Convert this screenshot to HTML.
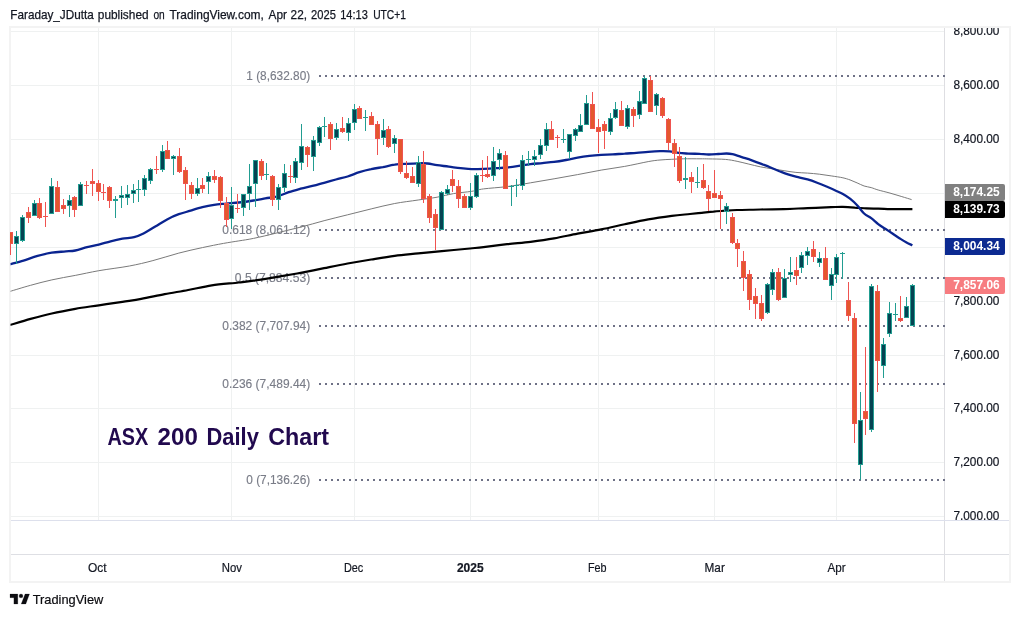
<!DOCTYPE html>
<html lang="en"><head><meta charset="utf-8"><title>ASX 200 Daily Chart</title>
<style>html,body{margin:0;padding:0;background:#fff}body{width:1020px;height:617px;overflow:hidden;position:relative}svg{position:absolute;left:0;top:0;display:block}text{font-family:"Liberation Sans",Arial,sans-serif}</style>
</head><body>
<svg width="1020" height="617" viewBox="0 0 1020 617">
<rect width="1020" height="617" fill="#fff"/>
<g font-size="12.4" fill="#131722" stroke="#131722" stroke-width="0.25">
<text x="10.3" y="19.2" textLength="83.4" lengthAdjust="spacingAndGlyphs">Faraday_JDutta</text>
<text x="97.8" y="19.2" textLength="50.8" lengthAdjust="spacingAndGlyphs">published</text>
<text x="153.4" y="19.2" textLength="11.3" lengthAdjust="spacingAndGlyphs">on</text>
<text x="169.5" y="19.2" textLength="94.3" lengthAdjust="spacingAndGlyphs">TradingView.com,</text>
<text x="268.6" y="19.2" textLength="18.4" lengthAdjust="spacingAndGlyphs">Apr</text>
<text x="290.6" y="19.2" textLength="16.4" lengthAdjust="spacingAndGlyphs">22,</text>
<text x="311.1" y="19.2" textLength="24.8" lengthAdjust="spacingAndGlyphs">2025</text>
<text x="340.2" y="19.2" textLength="27.6" lengthAdjust="spacingAndGlyphs">14:13</text>
<text x="373.2" y="19.2" textLength="32.8" lengthAdjust="spacingAndGlyphs">UTC+1</text>
</g>
<g shape-rendering="crispEdges">
<g fill="#eff1f1">
<rect x="11" y="516" width="933" height="1"/>
<rect x="11" y="462" width="933" height="1"/>
<rect x="11" y="408" width="933" height="1"/>
<rect x="11" y="355" width="933" height="1"/>
<rect x="11" y="301" width="933" height="1"/>
<rect x="11" y="247" width="933" height="1"/>
<rect x="11" y="193" width="933" height="1"/>
<rect x="11" y="139" width="933" height="1"/>
<rect x="11" y="85" width="933" height="1"/>
<rect x="11" y="31" width="933" height="1"/>
<rect x="98" y="27" width="1" height="493"/>
<rect x="231" y="27" width="1" height="493"/>
<rect x="354" y="27" width="1" height="493"/>
<rect x="470" y="27" width="1" height="493"/>
<rect x="598" y="27" width="1" height="493"/>
<rect x="714" y="27" width="1" height="493"/>
<rect x="836" y="27" width="1" height="493"/>
</g>
<g fill="#e6e8ee">
</g>
<g fill="#f3f3f3">
<rect x="9" y="26" width="1002" height="2"/>
<rect x="9" y="26" width="2" height="557"/>
<rect x="1009" y="26" width="2" height="557"/>
<rect x="9" y="581" width="1002" height="2"/>
</g>
<rect x="944" y="28" width="1" height="553" fill="#dedee2"/>
<rect x="11" y="520" width="998" height="1" fill="#dde0ec"/>
<rect x="11" y="554" width="998" height="1" fill="#dedfe4"/>
</g>
<g font-size="12.2" fill="#7a7d88" stroke="#7a7d88" stroke-width="0.15">
<text x="246.3" y="79.7" textLength="63.9" lengthAdjust="spacingAndGlyphs">1 (8,632.80)</text>
<text x="222.3" y="233.7" textLength="87.9" lengthAdjust="spacingAndGlyphs">0.618 (8,061.12)</text>
<text x="234.8" y="281.7" textLength="75.4" lengthAdjust="spacingAndGlyphs">0.5 (7,884.53)</text>
<text x="222.3" y="329.7" textLength="87.9" lengthAdjust="spacingAndGlyphs">0.382 (7,707.94)</text>
<text x="222.3" y="387.7" textLength="87.9" lengthAdjust="spacingAndGlyphs">0.236 (7,489.44)</text>
<text x="246.3" y="483.7" textLength="63.9" lengthAdjust="spacingAndGlyphs">0 (7,136.26)</text>
</g>
<g stroke="#6e7186" stroke-width="2" stroke-dasharray="2 4" shape-rendering="crispEdges">
<line x1="319.3" y1="76" x2="945" y2="76"/>
<line x1="319.3" y1="230" x2="945" y2="230"/>
<line x1="319.3" y1="278" x2="945" y2="278"/>
<line x1="319.3" y1="326" x2="945" y2="326"/>
<line x1="319.3" y1="384" x2="945" y2="384"/>
<line x1="319.3" y1="480" x2="945" y2="480"/>
</g>
<clipPath id="pane2"><rect x="10.5" y="28" width="934" height="492"/></clipPath>
<g fill="none" stroke-linejoin="round" stroke-linecap="butt" clip-path="url(#pane2)">
<path d="M10.0,291.4C13.4,290.4 23.6,287.2 30.6,285.3C37.6,283.4 44.3,281.5 51.8,279.9C59.2,278.2 67.5,276.9 75.3,275.4C83.1,273.9 89.8,272.3 98.8,270.7C107.8,269.1 120.4,267.7 129.4,266.0C138.4,264.3 144.7,262.8 152.9,260.6C161.1,258.5 170.6,255.3 178.8,253.1C187.1,250.9 195.0,249.2 202.4,247.6C209.8,246.0 217.4,244.5 223.5,243.4C229.6,242.3 233.8,241.7 238.8,240.9C243.8,240.1 247.1,239.7 253.5,238.4C259.9,237.1 269.2,234.8 277.1,232.9C285.0,231.0 292.8,229.1 300.6,227.1C308.4,225.1 316.3,222.8 324.1,220.7C331.9,218.6 339.8,216.8 347.6,214.8C355.5,212.8 363.4,210.8 371.2,208.9C379.0,207.0 386.9,205.0 394.7,203.5C402.5,202.0 411.1,201.1 418.2,200.0C425.3,198.9 431.2,198.3 437.1,197.2C443.0,196.1 447.7,194.6 453.5,193.6C459.3,192.6 466.8,192.1 471.8,191.3C476.8,190.5 477.6,189.7 483.5,188.9C489.4,188.1 499.2,187.6 507.1,186.6C515.0,185.6 522.8,184.1 530.6,182.8C538.4,181.5 546.3,180.2 554.1,178.8C561.9,177.4 569.8,176.1 577.6,174.6C585.5,173.1 593.4,171.5 601.2,170.1C609.1,168.7 616.9,167.8 624.7,166.4C632.5,165.0 642.3,162.7 648.2,161.6C654.1,160.5 656.1,160.4 660.0,160.0C663.9,159.6 667.9,159.5 671.8,159.3C675.7,159.1 678.8,158.9 683.5,158.8C688.2,158.7 695.8,158.8 700.0,158.8C704.2,158.8 704.6,158.8 708.8,158.9C713.0,159.0 720.6,159.0 725.3,159.4C730.0,159.8 733.2,160.5 737.1,161.3C741.0,162.1 744.9,163.2 748.8,164.1C752.7,165.0 756.7,166.1 760.6,166.9C764.5,167.7 768.5,168.2 772.4,168.8C776.3,169.4 780.2,170.1 784.1,170.7C788.0,171.3 792.0,172.0 795.9,172.4C799.8,172.8 803.7,172.8 807.6,173.1C811.5,173.4 815.5,173.7 819.4,174.2C823.3,174.7 827.3,175.3 831.2,175.9C835.1,176.5 839.8,177.1 842.9,177.8C846.0,178.5 847.6,179.1 850.0,179.9C852.4,180.8 854.8,181.9 857.1,182.9C859.5,183.9 861.8,185.2 864.1,186.0C866.5,186.8 868.9,186.9 871.2,187.6C873.6,188.3 875.1,189.1 878.2,190.0C881.3,190.9 886.1,192.0 890.0,193.1C893.9,194.2 898.2,195.5 901.8,196.6C905.4,197.7 910.0,199.1 911.6,199.6" stroke="#7a7a7a" stroke-width="1"/>
<path d="M10.0,325.0C13.4,324.0 23.6,320.8 30.6,318.9C37.6,317.0 44.3,315.2 51.8,313.5C59.2,311.8 67.5,310.2 75.3,308.8C83.1,307.4 90.9,306.5 98.8,305.3C106.7,304.1 115.3,302.9 122.4,301.8C129.5,300.7 134.1,300.2 141.2,298.9C148.2,297.6 156.9,295.7 164.7,294.2C172.5,292.7 180.3,291.5 188.2,290.0C196.0,288.5 203.4,286.6 211.8,285.3C220.2,284.1 231.9,283.3 238.8,282.5C245.8,281.7 247.1,281.6 253.5,280.7C259.9,279.8 269.2,278.2 277.1,276.9C285.0,275.6 292.8,274.3 300.6,272.9C308.4,271.4 316.3,269.8 324.1,268.2C331.9,266.6 339.8,264.9 347.6,263.5C355.5,262.1 363.4,260.8 371.2,259.5C379.0,258.2 386.9,256.8 394.7,255.8C402.5,254.8 410.3,254.2 418.2,253.4C426.1,252.6 433.2,251.9 441.8,251.1C450.4,250.3 463.1,249.2 470.0,248.5C476.9,247.8 477.3,247.8 483.5,247.1C489.7,246.4 499.2,245.1 507.1,244.2C515.0,243.3 522.8,242.9 530.6,241.9C538.4,240.9 546.3,239.8 554.1,238.4C561.9,237.0 569.8,235.1 577.6,233.6C585.5,232.1 593.4,231.0 601.2,229.4C609.1,227.8 616.9,225.9 624.7,224.2C632.5,222.5 640.4,220.7 648.2,219.3C656.1,217.9 664.8,216.7 671.8,215.8C678.8,214.9 685.0,214.5 690.0,214.0C695.0,213.5 697.9,213.2 701.8,212.8C705.7,212.4 709.6,211.9 713.5,211.6C717.4,211.2 721.4,211.0 725.3,210.7C729.2,210.4 731.2,210.2 737.1,210.0C743.0,209.8 752.8,209.7 760.6,209.5C768.4,209.3 776.3,209.3 784.1,209.1C791.9,208.9 799.8,208.4 807.6,208.1C815.5,207.8 825.3,207.4 831.2,207.2C837.1,207.0 839.0,206.8 842.9,206.9C846.8,207.0 850.8,207.3 854.7,207.6C858.6,207.8 862.6,208.2 866.5,208.4C870.4,208.6 874.3,208.5 878.2,208.6C882.1,208.7 886.1,209.0 890.0,209.1C893.9,209.2 898.1,209.1 901.8,209.1C905.5,209.1 910.6,209.1 912.4,209.1" stroke="#000" stroke-width="2.2"/>
<path d="M10.0,264.4C10.1,264.3 8.3,264.7 10.6,264.1C12.8,263.5 19.0,262.0 23.5,260.6C28.0,259.2 32.9,257.2 37.6,255.9C42.3,254.6 47.1,253.3 51.8,252.6C56.5,251.8 62.0,251.8 65.9,251.4C69.8,251.1 71.8,251.2 75.3,250.5C78.8,249.8 83.2,248.2 87.1,247.2C91.0,246.2 94.9,245.6 98.8,244.6C102.7,243.6 106.7,242.3 110.6,241.3C114.5,240.3 118.5,239.4 122.4,238.7C126.3,238.0 130.6,238.0 134.1,237.1C137.6,236.2 140.0,235.3 143.5,233.5C147.0,231.7 151.4,228.8 155.3,226.5C159.2,224.2 163.2,221.5 167.1,219.4C171.0,217.3 174.9,215.6 178.8,214.2C182.7,212.8 186.7,211.9 190.6,210.7C194.5,209.5 198.5,208.2 202.4,207.2C206.3,206.2 210.2,205.4 214.1,204.8C218.0,204.2 221.8,204.0 225.9,203.6C230.0,203.2 234.2,203.0 238.8,202.5C243.4,202.0 249.1,201.2 253.5,200.5C257.9,199.8 261.4,199.1 265.3,198.4C269.2,197.7 273.2,197.5 277.1,196.5C281.0,195.5 284.9,193.5 288.8,192.2C292.7,190.9 296.7,189.8 300.6,188.7C304.5,187.6 308.5,186.9 312.4,185.9C316.3,184.9 320.2,183.9 324.1,182.8C328.0,181.7 332.0,180.6 335.9,179.5C339.8,178.4 343.7,177.7 347.6,176.5C351.5,175.3 355.5,173.4 359.4,172.2C363.3,171.0 367.3,170.0 371.2,169.2C375.1,168.3 379.0,167.8 382.9,167.1C386.8,166.3 390.8,165.2 394.7,164.7C398.6,164.1 402.6,164.0 406.5,163.8C410.4,163.6 414.7,163.4 418.2,163.3C421.7,163.2 424.5,163.2 427.6,163.5C430.8,163.8 433.6,164.7 437.1,165.2C440.6,165.7 444.9,166.1 448.8,166.6C452.7,167.1 456.8,167.8 460.6,168.2C464.4,168.6 468.0,169.1 471.8,169.2C475.6,169.3 479.6,169.1 483.5,168.9C487.4,168.7 491.4,168.4 495.3,168.2C499.2,168.0 503.2,167.9 507.1,167.5C511.0,167.1 514.9,166.5 518.8,165.9C522.7,165.3 526.7,164.7 530.6,164.2C534.5,163.7 538.5,163.5 542.4,163.1C546.3,162.7 550.2,162.4 554.1,161.9C558.0,161.4 562.0,160.7 565.9,160.0C569.8,159.3 573.7,158.3 577.6,157.6C581.5,156.9 585.5,156.3 589.4,155.8C593.3,155.3 597.3,155.0 601.2,154.8C605.1,154.6 609.0,154.6 612.9,154.4C616.8,154.2 620.8,153.8 624.7,153.6C628.6,153.3 632.6,153.2 636.5,152.9C640.4,152.6 644.3,152.1 648.2,151.8C652.1,151.5 656.5,151.2 660.0,151.1C663.5,151.0 666.3,151.0 669.4,151.3C672.5,151.6 675.7,152.5 678.8,152.9C681.9,153.3 684.8,153.4 688.2,153.6C691.6,153.8 696.0,153.7 699.4,153.8C702.8,154.0 705.7,154.5 708.8,154.5C711.9,154.5 715.2,154.2 718.2,154.0C721.2,153.8 724.1,153.5 726.5,153.5C728.9,153.5 729.9,153.6 732.4,154.2C734.9,154.8 738.7,156.1 741.8,157.1C744.9,158.1 748.1,159.0 751.2,160.1C754.3,161.2 757.5,162.4 760.6,163.6C763.7,164.8 766.9,165.9 770.0,167.2C773.1,168.5 776.3,169.9 779.4,171.2C782.5,172.4 785.7,173.7 788.8,174.7C791.9,175.7 795.1,176.3 798.2,177.1C801.3,177.9 804.5,178.5 807.6,179.4C810.8,180.3 814.0,181.5 817.1,182.7C820.2,183.9 823.4,185.2 826.5,186.5C829.6,187.8 833.2,189.4 835.9,190.7C838.6,191.9 840.5,192.7 842.9,194.0C845.2,195.3 847.6,196.8 850.0,198.7C852.4,200.6 854.8,202.8 857.1,205.3C859.5,207.8 861.8,211.3 864.1,213.5C866.5,215.7 868.9,216.4 871.2,218.2C873.6,220.0 875.9,222.3 878.2,224.1C880.6,225.9 882.9,227.2 885.3,228.8C887.7,230.4 890.0,231.9 892.4,233.5C894.8,235.1 897.0,236.7 899.4,238.2C901.8,239.7 904.3,241.3 906.5,242.5C908.7,243.7 911.4,244.8 912.4,245.3" stroke="#0a2490" stroke-width="2.3"/>
</g>
<clipPath id="pane"><rect x="10" y="28" width="934" height="492"/></clipPath>
<g shape-rendering="crispEdges" clip-path="url(#pane)">
<rect x="10" y="232" width="1" height="23" fill="#ef5350"/>
<rect x="8" y="232" width="5" height="12" fill="#ef5350"/>
<rect x="9" y="233" width="3" height="10" fill="#e4572e"/>
<rect x="16" y="231" width="1" height="33" fill="#229d91"/>
<rect x="14" y="236" width="5" height="8" fill="#229d91"/>
<rect x="15" y="237" width="3" height="6" fill="#054352"/>
<rect x="22" y="215" width="1" height="27" fill="#229d91"/>
<rect x="20" y="217" width="5" height="24" fill="#229d91"/>
<rect x="21" y="218" width="3" height="22" fill="#054352"/>
<rect x="28" y="207" width="1" height="16" fill="#ef5350"/>
<rect x="26" y="212" width="5" height="6" fill="#ef5350"/>
<rect x="27" y="213" width="3" height="4" fill="#e4572e"/>
<rect x="34" y="200" width="1" height="16" fill="#229d91"/>
<rect x="32" y="203" width="5" height="13" fill="#229d91"/>
<rect x="33" y="204" width="3" height="11" fill="#054352"/>
<rect x="39" y="198" width="1" height="21" fill="#ef5350"/>
<rect x="37" y="203" width="5" height="15" fill="#ef5350"/>
<rect x="38" y="204" width="3" height="13" fill="#e4572e"/>
<rect x="45" y="202" width="1" height="25" fill="#ef5350"/>
<rect x="43" y="216" width="5" height="1" fill="#ef5350"/>
<rect x="51" y="178" width="1" height="36" fill="#229d91"/>
<rect x="49" y="186" width="5" height="28" fill="#229d91"/>
<rect x="50" y="187" width="3" height="26" fill="#054352"/>
<rect x="57" y="181" width="1" height="31" fill="#ef5350"/>
<rect x="55" y="187" width="5" height="25" fill="#ef5350"/>
<rect x="56" y="188" width="3" height="23" fill="#e4572e"/>
<rect x="63" y="199" width="1" height="15" fill="#ef5350"/>
<rect x="61" y="205" width="5" height="4" fill="#ef5350"/>
<rect x="62" y="206" width="3" height="2" fill="#e4572e"/>
<rect x="69" y="195" width="1" height="22" fill="#229d91"/>
<rect x="67" y="200" width="5" height="6" fill="#229d91"/>
<rect x="68" y="201" width="3" height="4" fill="#054352"/>
<rect x="74" y="196" width="1" height="21" fill="#ef5350"/>
<rect x="72" y="197" width="5" height="13" fill="#ef5350"/>
<rect x="73" y="198" width="3" height="11" fill="#e4572e"/>
<rect x="80" y="182" width="1" height="24" fill="#229d91"/>
<rect x="78" y="184" width="5" height="22" fill="#229d91"/>
<rect x="79" y="185" width="3" height="20" fill="#054352"/>
<rect x="86" y="181" width="1" height="13" fill="#ef5350"/>
<rect x="84" y="185" width="5" height="1" fill="#ef5350"/>
<rect x="92" y="169" width="1" height="27" fill="#ef5350"/>
<rect x="90" y="181" width="5" height="3" fill="#ef5350"/>
<rect x="91" y="182" width="3" height="1" fill="#e4572e"/>
<rect x="98" y="180" width="1" height="21" fill="#ef5350"/>
<rect x="96" y="183" width="5" height="9" fill="#ef5350"/>
<rect x="97" y="184" width="3" height="7" fill="#e4572e"/>
<rect x="103" y="184" width="1" height="16" fill="#ef5350"/>
<rect x="101" y="192" width="5" height="1" fill="#ef5350"/>
<rect x="109" y="186" width="1" height="22" fill="#ef5350"/>
<rect x="107" y="187" width="5" height="14" fill="#ef5350"/>
<rect x="108" y="188" width="3" height="12" fill="#e4572e"/>
<rect x="115" y="196" width="1" height="22" fill="#229d91"/>
<rect x="113" y="199" width="5" height="2" fill="#229d91"/>
<rect x="121" y="186" width="1" height="22" fill="#229d91"/>
<rect x="119" y="195" width="5" height="3" fill="#229d91"/>
<rect x="120" y="196" width="3" height="1" fill="#054352"/>
<rect x="127" y="185" width="1" height="20" fill="#229d91"/>
<rect x="125" y="194" width="5" height="4" fill="#229d91"/>
<rect x="126" y="195" width="3" height="2" fill="#054352"/>
<rect x="133" y="184" width="1" height="19" fill="#229d91"/>
<rect x="131" y="190" width="5" height="4" fill="#229d91"/>
<rect x="132" y="191" width="3" height="2" fill="#054352"/>
<rect x="138" y="180" width="1" height="22" fill="#229d91"/>
<rect x="136" y="189" width="5" height="1" fill="#229d91"/>
<rect x="144" y="175" width="1" height="21" fill="#229d91"/>
<rect x="142" y="178" width="5" height="12" fill="#229d91"/>
<rect x="143" y="179" width="3" height="10" fill="#054352"/>
<rect x="150" y="168" width="1" height="16" fill="#229d91"/>
<rect x="148" y="169" width="5" height="12" fill="#229d91"/>
<rect x="149" y="170" width="3" height="10" fill="#054352"/>
<rect x="156" y="156" width="1" height="18" fill="#ef5350"/>
<rect x="154" y="169" width="5" height="1" fill="#ef5350"/>
<rect x="162" y="145" width="1" height="27" fill="#229d91"/>
<rect x="160" y="151" width="5" height="19" fill="#229d91"/>
<rect x="161" y="152" width="3" height="17" fill="#054352"/>
<rect x="167" y="141" width="1" height="18" fill="#ef5350"/>
<rect x="165" y="150" width="5" height="9" fill="#ef5350"/>
<rect x="166" y="151" width="3" height="7" fill="#e4572e"/>
<rect x="173" y="155" width="1" height="20" fill="#229d91"/>
<rect x="171" y="156" width="5" height="3" fill="#229d91"/>
<rect x="172" y="157" width="3" height="1" fill="#054352"/>
<rect x="179" y="148" width="1" height="25" fill="#ef5350"/>
<rect x="177" y="156" width="5" height="16" fill="#ef5350"/>
<rect x="178" y="157" width="3" height="14" fill="#e4572e"/>
<rect x="185" y="167" width="1" height="33" fill="#ef5350"/>
<rect x="183" y="170" width="5" height="14" fill="#ef5350"/>
<rect x="184" y="171" width="3" height="12" fill="#e4572e"/>
<rect x="191" y="182" width="1" height="17" fill="#ef5350"/>
<rect x="189" y="185" width="5" height="9" fill="#ef5350"/>
<rect x="190" y="186" width="3" height="7" fill="#e4572e"/>
<rect x="197" y="178" width="1" height="18" fill="#229d91"/>
<rect x="195" y="188" width="5" height="6" fill="#229d91"/>
<rect x="196" y="189" width="3" height="4" fill="#054352"/>
<rect x="202" y="178" width="1" height="15" fill="#ef5350"/>
<rect x="200" y="185" width="5" height="4" fill="#ef5350"/>
<rect x="201" y="186" width="3" height="2" fill="#e4572e"/>
<rect x="208" y="172" width="1" height="22" fill="#229d91"/>
<rect x="206" y="176" width="5" height="6" fill="#229d91"/>
<rect x="207" y="177" width="3" height="4" fill="#054352"/>
<rect x="214" y="170" width="1" height="13" fill="#ef5350"/>
<rect x="212" y="176" width="5" height="4" fill="#ef5350"/>
<rect x="213" y="177" width="3" height="2" fill="#e4572e"/>
<rect x="220" y="176" width="1" height="32" fill="#ef5350"/>
<rect x="218" y="177" width="5" height="24" fill="#ef5350"/>
<rect x="219" y="178" width="3" height="22" fill="#e4572e"/>
<rect x="226" y="197" width="1" height="30" fill="#ef5350"/>
<rect x="224" y="203" width="5" height="17" fill="#ef5350"/>
<rect x="225" y="204" width="3" height="15" fill="#e4572e"/>
<rect x="231" y="187" width="1" height="42" fill="#229d91"/>
<rect x="229" y="205" width="5" height="14" fill="#229d91"/>
<rect x="230" y="206" width="3" height="12" fill="#054352"/>
<rect x="237" y="194" width="1" height="19" fill="#ef5350"/>
<rect x="235" y="208" width="5" height="1" fill="#ef5350"/>
<rect x="243" y="194" width="1" height="22" fill="#229d91"/>
<rect x="241" y="194" width="5" height="14" fill="#229d91"/>
<rect x="242" y="195" width="3" height="12" fill="#054352"/>
<rect x="249" y="164" width="1" height="46" fill="#229d91"/>
<rect x="247" y="186" width="5" height="8" fill="#229d91"/>
<rect x="248" y="187" width="3" height="6" fill="#054352"/>
<rect x="255" y="160" width="1" height="47" fill="#229d91"/>
<rect x="253" y="160" width="5" height="24" fill="#229d91"/>
<rect x="254" y="161" width="3" height="22" fill="#054352"/>
<rect x="261" y="159" width="1" height="21" fill="#ef5350"/>
<rect x="259" y="161" width="5" height="15" fill="#ef5350"/>
<rect x="260" y="162" width="3" height="13" fill="#e4572e"/>
<rect x="266" y="163" width="1" height="17" fill="#229d91"/>
<rect x="264" y="174" width="5" height="1" fill="#229d91"/>
<rect x="272" y="175" width="1" height="31" fill="#ef5350"/>
<rect x="270" y="176" width="5" height="24" fill="#ef5350"/>
<rect x="271" y="177" width="3" height="22" fill="#e4572e"/>
<rect x="278" y="184" width="1" height="26" fill="#229d91"/>
<rect x="276" y="187" width="5" height="13" fill="#229d91"/>
<rect x="277" y="188" width="3" height="11" fill="#054352"/>
<rect x="284" y="164" width="1" height="28" fill="#229d91"/>
<rect x="282" y="173" width="5" height="15" fill="#229d91"/>
<rect x="283" y="174" width="3" height="13" fill="#054352"/>
<rect x="290" y="165" width="1" height="18" fill="#ef5350"/>
<rect x="288" y="176" width="5" height="1" fill="#ef5350"/>
<rect x="295" y="158" width="1" height="25" fill="#229d91"/>
<rect x="293" y="161" width="5" height="17" fill="#229d91"/>
<rect x="294" y="162" width="3" height="15" fill="#054352"/>
<rect x="301" y="124" width="1" height="46" fill="#229d91"/>
<rect x="299" y="146" width="5" height="17" fill="#229d91"/>
<rect x="300" y="147" width="3" height="15" fill="#054352"/>
<rect x="307" y="146" width="1" height="21" fill="#ef5350"/>
<rect x="305" y="147" width="5" height="8" fill="#ef5350"/>
<rect x="306" y="148" width="3" height="6" fill="#e4572e"/>
<rect x="313" y="136" width="1" height="35" fill="#229d91"/>
<rect x="311" y="140" width="5" height="17" fill="#229d91"/>
<rect x="312" y="141" width="3" height="15" fill="#054352"/>
<rect x="319" y="126" width="1" height="20" fill="#229d91"/>
<rect x="317" y="127" width="5" height="16" fill="#229d91"/>
<rect x="318" y="128" width="3" height="14" fill="#054352"/>
<rect x="324" y="117" width="1" height="20" fill="#229d91"/>
<rect x="322" y="126" width="5" height="1" fill="#229d91"/>
<rect x="330" y="122" width="1" height="28" fill="#ef5350"/>
<rect x="328" y="124" width="5" height="15" fill="#ef5350"/>
<rect x="329" y="125" width="3" height="13" fill="#e4572e"/>
<rect x="336" y="123" width="1" height="17" fill="#229d91"/>
<rect x="334" y="129" width="5" height="9" fill="#229d91"/>
<rect x="335" y="130" width="3" height="7" fill="#054352"/>
<rect x="342" y="117" width="1" height="16" fill="#ef5350"/>
<rect x="340" y="128" width="5" height="4" fill="#ef5350"/>
<rect x="341" y="129" width="3" height="2" fill="#e4572e"/>
<rect x="348" y="118" width="1" height="23" fill="#229d91"/>
<rect x="346" y="123" width="5" height="10" fill="#229d91"/>
<rect x="347" y="124" width="3" height="8" fill="#054352"/>
<rect x="354" y="104" width="1" height="26" fill="#229d91"/>
<rect x="352" y="109" width="5" height="14" fill="#229d91"/>
<rect x="353" y="110" width="3" height="12" fill="#054352"/>
<rect x="359" y="106" width="1" height="13" fill="#ef5350"/>
<rect x="357" y="108" width="5" height="11" fill="#ef5350"/>
<rect x="358" y="109" width="3" height="9" fill="#e4572e"/>
<rect x="365" y="110" width="1" height="21" fill="#229d91"/>
<rect x="363" y="117" width="5" height="1" fill="#229d91"/>
<rect x="371" y="112" width="1" height="13" fill="#ef5350"/>
<rect x="369" y="116" width="5" height="9" fill="#ef5350"/>
<rect x="370" y="117" width="3" height="7" fill="#e4572e"/>
<rect x="377" y="121" width="1" height="34" fill="#ef5350"/>
<rect x="375" y="124" width="5" height="15" fill="#ef5350"/>
<rect x="376" y="125" width="3" height="13" fill="#e4572e"/>
<rect x="383" y="119" width="1" height="26" fill="#229d91"/>
<rect x="381" y="130" width="5" height="8" fill="#229d91"/>
<rect x="382" y="131" width="3" height="6" fill="#054352"/>
<rect x="388" y="126" width="1" height="22" fill="#ef5350"/>
<rect x="386" y="129" width="5" height="18" fill="#ef5350"/>
<rect x="387" y="130" width="3" height="16" fill="#e4572e"/>
<rect x="394" y="135" width="1" height="18" fill="#229d91"/>
<rect x="392" y="138" width="5" height="6" fill="#229d91"/>
<rect x="393" y="139" width="3" height="4" fill="#054352"/>
<rect x="400" y="139" width="1" height="35" fill="#ef5350"/>
<rect x="398" y="139" width="5" height="33" fill="#ef5350"/>
<rect x="399" y="140" width="3" height="31" fill="#e4572e"/>
<rect x="406" y="161" width="1" height="18" fill="#ef5350"/>
<rect x="404" y="173" width="5" height="5" fill="#ef5350"/>
<rect x="405" y="174" width="3" height="3" fill="#e4572e"/>
<rect x="412" y="167" width="1" height="16" fill="#ef5350"/>
<rect x="410" y="176" width="5" height="7" fill="#ef5350"/>
<rect x="411" y="177" width="3" height="5" fill="#e4572e"/>
<rect x="418" y="156" width="1" height="31" fill="#229d91"/>
<rect x="416" y="162" width="5" height="22" fill="#229d91"/>
<rect x="417" y="163" width="3" height="20" fill="#054352"/>
<rect x="423" y="151" width="1" height="52" fill="#ef5350"/>
<rect x="421" y="164" width="5" height="35" fill="#ef5350"/>
<rect x="422" y="165" width="3" height="33" fill="#e4572e"/>
<rect x="429" y="194" width="1" height="29" fill="#ef5350"/>
<rect x="427" y="196" width="5" height="22" fill="#ef5350"/>
<rect x="428" y="197" width="3" height="20" fill="#e4572e"/>
<rect x="435" y="209" width="1" height="41" fill="#ef5350"/>
<rect x="433" y="214" width="5" height="14" fill="#ef5350"/>
<rect x="434" y="215" width="3" height="12" fill="#e4572e"/>
<rect x="441" y="191" width="1" height="39" fill="#229d91"/>
<rect x="439" y="192" width="5" height="38" fill="#229d91"/>
<rect x="440" y="193" width="3" height="36" fill="#054352"/>
<rect x="447" y="185" width="1" height="10" fill="#229d91"/>
<rect x="445" y="189" width="5" height="5" fill="#229d91"/>
<rect x="446" y="190" width="3" height="3" fill="#054352"/>
<rect x="452" y="170" width="1" height="22" fill="#ef5350"/>
<rect x="450" y="179" width="5" height="7" fill="#ef5350"/>
<rect x="451" y="180" width="3" height="5" fill="#e4572e"/>
<rect x="458" y="180" width="1" height="28" fill="#ef5350"/>
<rect x="456" y="186" width="5" height="13" fill="#ef5350"/>
<rect x="457" y="187" width="3" height="11" fill="#e4572e"/>
<rect x="464" y="194" width="1" height="14" fill="#ef5350"/>
<rect x="462" y="196" width="5" height="12" fill="#ef5350"/>
<rect x="463" y="197" width="3" height="10" fill="#e4572e"/>
<rect x="470" y="183" width="1" height="27" fill="#229d91"/>
<rect x="468" y="196" width="5" height="12" fill="#229d91"/>
<rect x="469" y="197" width="3" height="10" fill="#054352"/>
<rect x="476" y="173" width="1" height="25" fill="#229d91"/>
<rect x="474" y="175" width="5" height="22" fill="#229d91"/>
<rect x="475" y="176" width="3" height="20" fill="#054352"/>
<rect x="482" y="160" width="1" height="22" fill="#ef5350"/>
<rect x="480" y="175" width="5" height="1" fill="#ef5350"/>
<rect x="487" y="156" width="1" height="22" fill="#ef5350"/>
<rect x="485" y="174" width="5" height="3" fill="#ef5350"/>
<rect x="486" y="175" width="3" height="1" fill="#e4572e"/>
<rect x="493" y="147" width="1" height="34" fill="#229d91"/>
<rect x="491" y="161" width="5" height="15" fill="#229d91"/>
<rect x="492" y="162" width="3" height="13" fill="#054352"/>
<rect x="499" y="149" width="1" height="21" fill="#229d91"/>
<rect x="497" y="153" width="5" height="7" fill="#229d91"/>
<rect x="498" y="154" width="3" height="5" fill="#054352"/>
<rect x="505" y="151" width="1" height="38" fill="#ef5350"/>
<rect x="503" y="155" width="5" height="34" fill="#ef5350"/>
<rect x="504" y="156" width="3" height="32" fill="#e4572e"/>
<rect x="511" y="185" width="1" height="21" fill="#229d91"/>
<rect x="509" y="186" width="5" height="1" fill="#229d91"/>
<rect x="516" y="179" width="1" height="18" fill="#229d91"/>
<rect x="514" y="185" width="5" height="1" fill="#229d91"/>
<rect x="522" y="155" width="1" height="35" fill="#229d91"/>
<rect x="520" y="160" width="5" height="26" fill="#229d91"/>
<rect x="521" y="161" width="3" height="24" fill="#054352"/>
<rect x="528" y="151" width="1" height="15" fill="#229d91"/>
<rect x="526" y="159" width="5" height="1" fill="#229d91"/>
<rect x="534" y="150" width="1" height="16" fill="#229d91"/>
<rect x="532" y="156" width="5" height="4" fill="#229d91"/>
<rect x="533" y="157" width="3" height="2" fill="#054352"/>
<rect x="540" y="139" width="1" height="20" fill="#229d91"/>
<rect x="538" y="145" width="5" height="10" fill="#229d91"/>
<rect x="539" y="146" width="3" height="8" fill="#054352"/>
<rect x="546" y="123" width="1" height="28" fill="#229d91"/>
<rect x="544" y="129" width="5" height="17" fill="#229d91"/>
<rect x="545" y="130" width="3" height="15" fill="#054352"/>
<rect x="551" y="121" width="1" height="19" fill="#ef5350"/>
<rect x="549" y="129" width="5" height="11" fill="#ef5350"/>
<rect x="550" y="130" width="3" height="9" fill="#e4572e"/>
<rect x="557" y="135" width="1" height="13" fill="#ef5350"/>
<rect x="555" y="137" width="5" height="1" fill="#ef5350"/>
<rect x="563" y="129" width="1" height="14" fill="#229d91"/>
<rect x="561" y="139" width="5" height="1" fill="#229d91"/>
<rect x="569" y="134" width="1" height="25" fill="#229d91"/>
<rect x="567" y="134" width="5" height="18" fill="#229d91"/>
<rect x="568" y="135" width="3" height="16" fill="#054352"/>
<rect x="575" y="128" width="1" height="13" fill="#229d91"/>
<rect x="573" y="129" width="5" height="7" fill="#229d91"/>
<rect x="574" y="130" width="3" height="5" fill="#054352"/>
<rect x="580" y="114" width="1" height="18" fill="#229d91"/>
<rect x="578" y="125" width="5" height="7" fill="#229d91"/>
<rect x="579" y="126" width="3" height="5" fill="#054352"/>
<rect x="586" y="95" width="1" height="30" fill="#229d91"/>
<rect x="584" y="103" width="5" height="22" fill="#229d91"/>
<rect x="585" y="104" width="3" height="20" fill="#054352"/>
<rect x="592" y="92" width="1" height="37" fill="#ef5350"/>
<rect x="590" y="104" width="5" height="25" fill="#ef5350"/>
<rect x="591" y="105" width="3" height="23" fill="#e4572e"/>
<rect x="598" y="119" width="1" height="34" fill="#ef5350"/>
<rect x="596" y="127" width="5" height="5" fill="#ef5350"/>
<rect x="597" y="128" width="3" height="3" fill="#e4572e"/>
<rect x="604" y="121" width="1" height="28" fill="#ef5350"/>
<rect x="602" y="124" width="5" height="7" fill="#ef5350"/>
<rect x="603" y="125" width="3" height="5" fill="#e4572e"/>
<rect x="610" y="113" width="1" height="22" fill="#229d91"/>
<rect x="608" y="118" width="5" height="14" fill="#229d91"/>
<rect x="609" y="119" width="3" height="12" fill="#054352"/>
<rect x="615" y="102" width="1" height="17" fill="#229d91"/>
<rect x="613" y="109" width="5" height="9" fill="#229d91"/>
<rect x="614" y="110" width="3" height="7" fill="#054352"/>
<rect x="621" y="101" width="1" height="25" fill="#ef5350"/>
<rect x="619" y="110" width="5" height="16" fill="#ef5350"/>
<rect x="620" y="111" width="3" height="14" fill="#e4572e"/>
<rect x="627" y="105" width="1" height="24" fill="#229d91"/>
<rect x="625" y="108" width="5" height="19" fill="#229d91"/>
<rect x="626" y="109" width="3" height="17" fill="#054352"/>
<rect x="633" y="107" width="1" height="20" fill="#ef5350"/>
<rect x="631" y="109" width="5" height="7" fill="#ef5350"/>
<rect x="632" y="110" width="3" height="5" fill="#e4572e"/>
<rect x="639" y="91" width="1" height="28" fill="#229d91"/>
<rect x="637" y="101" width="5" height="14" fill="#229d91"/>
<rect x="638" y="102" width="3" height="12" fill="#054352"/>
<rect x="644" y="76" width="1" height="28" fill="#229d91"/>
<rect x="642" y="78" width="5" height="26" fill="#229d91"/>
<rect x="643" y="79" width="3" height="24" fill="#054352"/>
<rect x="650" y="76" width="1" height="36" fill="#ef5350"/>
<rect x="648" y="80" width="5" height="32" fill="#ef5350"/>
<rect x="649" y="81" width="3" height="30" fill="#e4572e"/>
<rect x="656" y="93" width="1" height="22" fill="#229d91"/>
<rect x="654" y="94" width="5" height="12" fill="#229d91"/>
<rect x="655" y="95" width="3" height="10" fill="#054352"/>
<rect x="662" y="97" width="1" height="21" fill="#ef5350"/>
<rect x="660" y="98" width="5" height="18" fill="#ef5350"/>
<rect x="661" y="99" width="3" height="16" fill="#e4572e"/>
<rect x="668" y="118" width="1" height="32" fill="#ef5350"/>
<rect x="666" y="119" width="5" height="24" fill="#ef5350"/>
<rect x="667" y="120" width="3" height="22" fill="#e4572e"/>
<rect x="674" y="139" width="1" height="28" fill="#ef5350"/>
<rect x="672" y="143" width="5" height="11" fill="#ef5350"/>
<rect x="673" y="144" width="3" height="9" fill="#e4572e"/>
<rect x="679" y="147" width="1" height="36" fill="#ef5350"/>
<rect x="677" y="156" width="5" height="25" fill="#ef5350"/>
<rect x="678" y="157" width="3" height="23" fill="#e4572e"/>
<rect x="685" y="157" width="1" height="32" fill="#229d91"/>
<rect x="683" y="178" width="5" height="2" fill="#229d91"/>
<rect x="691" y="172" width="1" height="21" fill="#ef5350"/>
<rect x="689" y="177" width="5" height="5" fill="#ef5350"/>
<rect x="690" y="178" width="3" height="3" fill="#e4572e"/>
<rect x="697" y="167" width="1" height="21" fill="#229d91"/>
<rect x="695" y="182" width="5" height="1" fill="#229d91"/>
<rect x="703" y="164" width="1" height="25" fill="#ef5350"/>
<rect x="701" y="180" width="5" height="8" fill="#ef5350"/>
<rect x="702" y="181" width="3" height="6" fill="#e4572e"/>
<rect x="708" y="185" width="1" height="26" fill="#ef5350"/>
<rect x="706" y="191" width="5" height="8" fill="#ef5350"/>
<rect x="707" y="192" width="3" height="6" fill="#e4572e"/>
<rect x="714" y="170" width="1" height="28" fill="#ef5350"/>
<rect x="712" y="193" width="5" height="5" fill="#ef5350"/>
<rect x="713" y="194" width="3" height="3" fill="#e4572e"/>
<rect x="720" y="191" width="1" height="38" fill="#ef5350"/>
<rect x="718" y="195" width="5" height="4" fill="#ef5350"/>
<rect x="719" y="196" width="3" height="2" fill="#e4572e"/>
<rect x="726" y="203" width="1" height="21" fill="#229d91"/>
<rect x="724" y="206" width="5" height="6" fill="#229d91"/>
<rect x="725" y="207" width="3" height="4" fill="#054352"/>
<rect x="732" y="213" width="1" height="31" fill="#ef5350"/>
<rect x="730" y="217" width="5" height="26" fill="#ef5350"/>
<rect x="731" y="218" width="3" height="24" fill="#e4572e"/>
<rect x="737" y="239" width="1" height="28" fill="#ef5350"/>
<rect x="735" y="243" width="5" height="6" fill="#ef5350"/>
<rect x="736" y="244" width="3" height="4" fill="#e4572e"/>
<rect x="743" y="251" width="1" height="40" fill="#ef5350"/>
<rect x="741" y="261" width="5" height="17" fill="#ef5350"/>
<rect x="742" y="262" width="3" height="15" fill="#e4572e"/>
<rect x="749" y="270" width="1" height="40" fill="#ef5350"/>
<rect x="747" y="274" width="5" height="26" fill="#ef5350"/>
<rect x="748" y="275" width="3" height="24" fill="#e4572e"/>
<rect x="755" y="288" width="1" height="31" fill="#ef5350"/>
<rect x="753" y="296" width="5" height="8" fill="#ef5350"/>
<rect x="754" y="297" width="3" height="6" fill="#e4572e"/>
<rect x="761" y="295" width="1" height="26" fill="#ef5350"/>
<rect x="759" y="303" width="5" height="16" fill="#ef5350"/>
<rect x="760" y="304" width="3" height="14" fill="#e4572e"/>
<rect x="767" y="283" width="1" height="31" fill="#229d91"/>
<rect x="765" y="284" width="5" height="29" fill="#229d91"/>
<rect x="766" y="285" width="3" height="27" fill="#054352"/>
<rect x="772" y="269" width="1" height="26" fill="#229d91"/>
<rect x="770" y="272" width="5" height="18" fill="#229d91"/>
<rect x="771" y="273" width="3" height="16" fill="#054352"/>
<rect x="778" y="268" width="1" height="33" fill="#ef5350"/>
<rect x="776" y="272" width="5" height="28" fill="#ef5350"/>
<rect x="777" y="273" width="3" height="26" fill="#e4572e"/>
<rect x="784" y="269" width="1" height="29" fill="#229d91"/>
<rect x="782" y="278" width="5" height="20" fill="#229d91"/>
<rect x="783" y="279" width="3" height="18" fill="#054352"/>
<rect x="790" y="257" width="1" height="25" fill="#229d91"/>
<rect x="788" y="272" width="5" height="3" fill="#229d91"/>
<rect x="789" y="273" width="3" height="1" fill="#054352"/>
<rect x="796" y="257" width="1" height="28" fill="#ef5350"/>
<rect x="794" y="270" width="5" height="6" fill="#ef5350"/>
<rect x="795" y="271" width="3" height="4" fill="#e4572e"/>
<rect x="801" y="252" width="1" height="21" fill="#229d91"/>
<rect x="799" y="255" width="5" height="13" fill="#229d91"/>
<rect x="800" y="256" width="3" height="11" fill="#054352"/>
<rect x="807" y="247" width="1" height="18" fill="#229d91"/>
<rect x="805" y="251" width="5" height="5" fill="#229d91"/>
<rect x="806" y="252" width="3" height="3" fill="#054352"/>
<rect x="813" y="241" width="1" height="21" fill="#ef5350"/>
<rect x="811" y="249" width="5" height="8" fill="#ef5350"/>
<rect x="812" y="250" width="3" height="6" fill="#e4572e"/>
<rect x="819" y="252" width="1" height="15" fill="#229d91"/>
<rect x="817" y="258" width="5" height="5" fill="#229d91"/>
<rect x="818" y="259" width="3" height="3" fill="#054352"/>
<rect x="825" y="247" width="1" height="33" fill="#ef5350"/>
<rect x="823" y="258" width="5" height="22" fill="#ef5350"/>
<rect x="824" y="259" width="3" height="20" fill="#e4572e"/>
<rect x="831" y="268" width="1" height="32" fill="#229d91"/>
<rect x="829" y="274" width="5" height="12" fill="#229d91"/>
<rect x="830" y="275" width="3" height="10" fill="#054352"/>
<rect x="836" y="254" width="1" height="29" fill="#229d91"/>
<rect x="834" y="257" width="5" height="18" fill="#229d91"/>
<rect x="835" y="258" width="3" height="16" fill="#054352"/>
<rect x="842" y="252" width="1" height="27" fill="#229d91"/>
<rect x="840" y="253" width="5" height="1" fill="#229d91"/>
<rect x="848" y="282" width="1" height="39" fill="#ef5350"/>
<rect x="846" y="300" width="5" height="16" fill="#ef5350"/>
<rect x="847" y="301" width="3" height="14" fill="#e4572e"/>
<rect x="854" y="313" width="1" height="130" fill="#ef5350"/>
<rect x="852" y="318" width="5" height="106" fill="#ef5350"/>
<rect x="853" y="319" width="3" height="104" fill="#e4572e"/>
<rect x="860" y="392" width="1" height="88" fill="#229d91"/>
<rect x="858" y="420" width="5" height="45" fill="#229d91"/>
<rect x="859" y="421" width="3" height="43" fill="#054352"/>
<rect x="865" y="347" width="1" height="88" fill="#ef5350"/>
<rect x="863" y="411" width="5" height="8" fill="#ef5350"/>
<rect x="864" y="412" width="3" height="6" fill="#e4572e"/>
<rect x="871" y="284" width="1" height="148" fill="#229d91"/>
<rect x="869" y="286" width="5" height="144" fill="#229d91"/>
<rect x="870" y="287" width="3" height="142" fill="#054352"/>
<rect x="877" y="285" width="1" height="107" fill="#ef5350"/>
<rect x="875" y="291" width="5" height="70" fill="#ef5350"/>
<rect x="876" y="292" width="3" height="68" fill="#e4572e"/>
<rect x="883" y="338" width="1" height="40" fill="#229d91"/>
<rect x="881" y="344" width="5" height="22" fill="#229d91"/>
<rect x="882" y="345" width="3" height="20" fill="#054352"/>
<rect x="889" y="302" width="1" height="35" fill="#229d91"/>
<rect x="887" y="313" width="5" height="21" fill="#229d91"/>
<rect x="888" y="314" width="3" height="19" fill="#054352"/>
<rect x="895" y="303" width="1" height="18" fill="#229d91"/>
<rect x="893" y="314" width="5" height="1" fill="#229d91"/>
<rect x="900" y="296" width="1" height="26" fill="#ef5350"/>
<rect x="898" y="318" width="5" height="3" fill="#ef5350"/>
<rect x="899" y="319" width="3" height="1" fill="#e4572e"/>
<rect x="906" y="297" width="1" height="21" fill="#229d91"/>
<rect x="904" y="306" width="5" height="12" fill="#229d91"/>
<rect x="905" y="307" width="3" height="10" fill="#054352"/>
<rect x="912" y="284" width="1" height="42" fill="#229d91"/>
<rect x="910" y="285" width="5" height="41" fill="#229d91"/>
<rect x="911" y="286" width="3" height="39" fill="#054352"/>
</g>
<g font-size="24.5" font-weight="bold" fill="#21094e">
<text x="107.4" y="445" textLength="40.8" lengthAdjust="spacingAndGlyphs">ASX</text>
<text x="157.6" y="445" textLength="40.2" lengthAdjust="spacingAndGlyphs">200</text>
<text x="206.5" y="445" textLength="52.4" lengthAdjust="spacingAndGlyphs">Daily</text>
<text x="268.3" y="445" textLength="60.8" lengthAdjust="spacingAndGlyphs">Chart</text>
</g>
<clipPath id="axis"><rect x="945" y="28" width="64" height="492"/></clipPath>
<g font-size="12.2" fill="#131722" stroke="#131722" stroke-width="0.2" clip-path="url(#axis)">
<text x="953.4" y="519.8" textLength="46" lengthAdjust="spacingAndGlyphs">7,000.00</text>
<text x="953.4" y="465.8" textLength="46" lengthAdjust="spacingAndGlyphs">7,200.00</text>
<text x="953.4" y="411.8" textLength="46" lengthAdjust="spacingAndGlyphs">7,400.00</text>
<text x="953.4" y="358.8" textLength="46" lengthAdjust="spacingAndGlyphs">7,600.00</text>
<text x="953.4" y="304.8" textLength="46" lengthAdjust="spacingAndGlyphs">7,800.00</text>
<text x="953.4" y="250.8" textLength="46" lengthAdjust="spacingAndGlyphs">8,000.00</text>
<text x="953.4" y="196.8" textLength="46" lengthAdjust="spacingAndGlyphs">8,200.00</text>
<text x="953.4" y="142.8" textLength="46" lengthAdjust="spacingAndGlyphs">8,400.00</text>
<text x="953.4" y="88.8" textLength="46" lengthAdjust="spacingAndGlyphs">8,600.00</text>
<text x="953.4" y="34.8" textLength="46" lengthAdjust="spacingAndGlyphs">8,800.00</text>
</g>
<path d="M945,184h58a2,2 0 0 1 2,2v13a2,2 0 0 1 -2,2h-58z" fill="#808080"/>
<text x="953.2" y="196.3" font-size="12" font-weight="bold" fill="#fff" textLength="46.5" lengthAdjust="spacingAndGlyphs">8,174.25</text>
<path d="M945,201h58a2,2 0 0 1 2,2v13a2,2 0 0 1 -2,2h-58z" fill="#000000"/>
<text x="953.2" y="213.3" font-size="12" font-weight="bold" fill="#fff" textLength="46.5" lengthAdjust="spacingAndGlyphs">8,139.73</text>
<path d="M945,238h58a2,2 0 0 1 2,2v13a2,2 0 0 1 -2,2h-58z" fill="#0c2a91"/>
<text x="953.2" y="250.3" font-size="12" font-weight="bold" fill="#fff" textLength="46.5" lengthAdjust="spacingAndGlyphs">8,004.34</text>
<path d="M945,277h58a2,2 0 0 1 2,2v13a2,2 0 0 1 -2,2h-58z" fill="#f77c80"/>
<text x="953.2" y="289.3" font-size="12" font-weight="bold" fill="#fff" textLength="46.5" lengthAdjust="spacingAndGlyphs">7,857.06</text>
<g font-size="12.2" fill="#131722" stroke="#131722" stroke-width="0.2" text-anchor="middle">
<text x="97.3" y="572.4" textLength="18.6" lengthAdjust="spacingAndGlyphs">Oct</text>
<text x="231.9" y="572.4" textLength="20.2" lengthAdjust="spacingAndGlyphs">Nov</text>
<text x="353.6" y="572.4" textLength="19.4" lengthAdjust="spacingAndGlyphs">Dec</text>
<text x="597.3" y="572.4" textLength="18.6" lengthAdjust="spacingAndGlyphs">Feb</text>
<text x="714.7" y="572.4" textLength="20.3" lengthAdjust="spacingAndGlyphs">Mar</text>
<text x="836.5" y="572.4" textLength="18.1" lengthAdjust="spacingAndGlyphs">Apr</text>
<text x="470.3" y="572.4" font-weight="bold" textLength="26.7" lengthAdjust="spacingAndGlyphs">2025</text>
</g>
<g fill="#0c0c10" stroke="#0c0c10" stroke-width="0.2">
<path d="M10,594H17.8V604H13.9V597.7H10Z"/>
<circle cx="21" cy="595.9" r="1.95"/>
<path d="M25.1,594H29.5L25.8,604H21.2Z"/>
<text x="32.7" y="603.8" font-size="12.8" textLength="70.6" lengthAdjust="spacingAndGlyphs">TradingView</text>
</g>
</svg></body></html>
